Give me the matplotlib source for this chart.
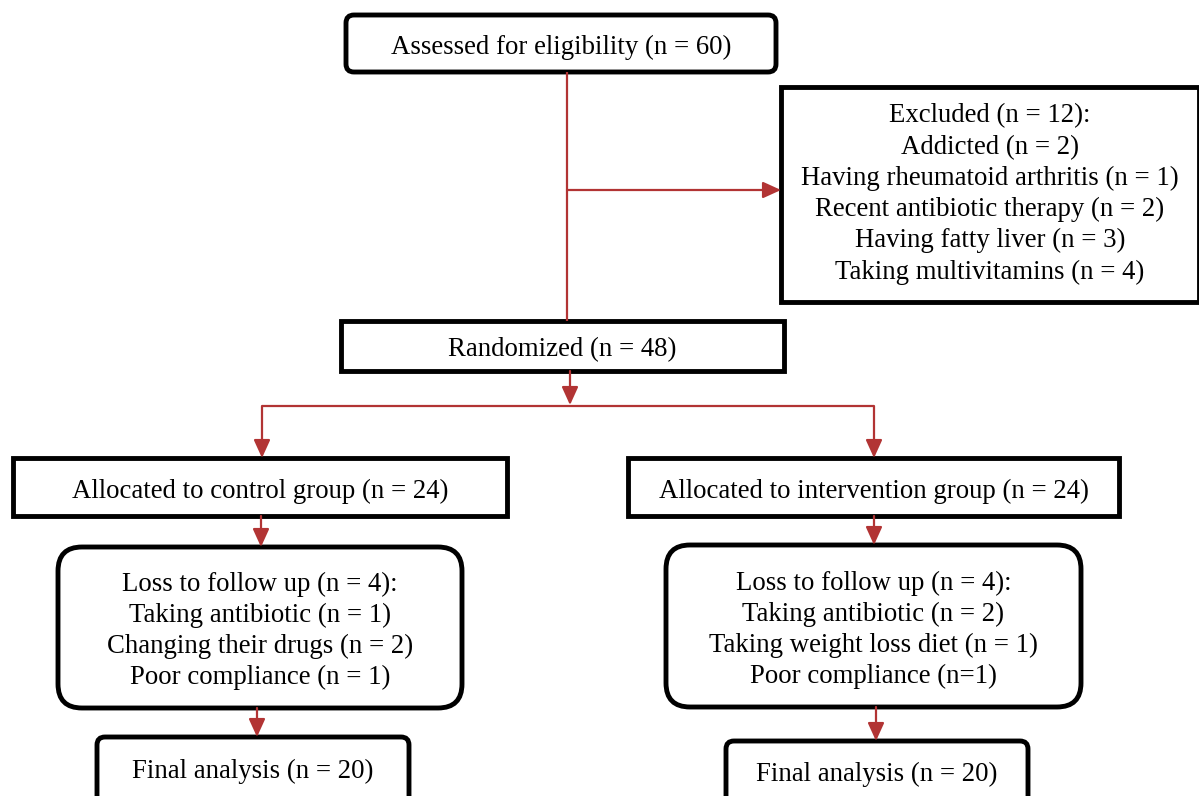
import matplotlib.pyplot as plt
from matplotlib.patches import FancyBboxPatch, Rectangle

plt.rcParams['font.family'] = ['Liberation Serif', 'DejaVu Serif']

# box labels
assessed = ['Assessed for eligibility (n = 60)']
excluded = ['Excluded (n = 12):', 'Addicted (n = 2)', 'Having rheumatoid arthritis (n = 1)',
            'Recent antibiotic therapy (n = 2)', 'Having fatty liver (n = 3)',
            'Taking multivitamins (n = 4)']
randomized = ['Randomized (n = 48)']
alloc_ctrl = ['Allocated to control group (n = 24)']
alloc_int = ['Allocated to intervention group (n = 24)']
loss_ctrl = ['Loss to follow up (n = 4):', 'Taking antibiotic (n = 1)',
             'Changing their drugs (n = 2)', 'Poor compliance (n = 1)']
loss_int = ['Loss to follow up (n = 4):', 'Taking antibiotic (n = 2)',
            'Taking weight loss diet (n = 1)', 'Poor compliance (n=1)']
final_ctrl = ['Final analysis (n = 20)']
final_int = ['Final analysis (n = 20)']

RED = '#b23434'
FS = 19.3
LINE_GAP = 31.2
TEXT_DY = 4

fig = plt.figure(figsize=(11.99, 7.96), dpi=100)
ax = fig.add_axes([0, 0, 1, 1])
ax.set_xlim(0, 1199)
ax.set_ylim(796, 0)
ax.axis('off')


def box(x0, y0, x1, y1, lines, rad=0, text_y=None):
    if rad:
        p = FancyBboxPatch((x0 + rad, y0 + rad), x1 - x0 - 2 * rad, y1 - y0 - 2 * rad,
                           boxstyle=f'round,pad={rad}', fc='white', ec='black', lw=3.5,
                           clip_on=False)
    else:
        p = Rectangle((x0, y0), x1 - x0, y1 - y0, fc='white', ec='black', lw=3.5,
                      clip_on=False)
    ax.add_patch(p)
    cx = (x0 + x1) / 2
    if text_y is None:
        text_y = (y0 + y1) / 2 - (len(lines) - 1) * LINE_GAP / 2 + TEXT_DY
    for i, s in enumerate(lines):
        ax.text(cx, text_y + i * LINE_GAP, s, ha='center', va='center', fontsize=FS)


def line(pts):
    xs, ys = zip(*pts)
    ax.plot(xs, ys, color=RED, lw=1.6, solid_capstyle='butt')


def arrow(x0, y0, x1, y1):
    ax.annotate('', xy=(x1, y1), xytext=(x0, y0),
                arrowprops=dict(arrowstyle='-|>,head_length=1.1,head_width=0.5',
                                color=RED, lw=1.6, shrinkA=0, shrinkB=0))


# connectors
line([(567, 72), (567, 321)])
arrow(567, 190, 781, 190)
arrow(570, 371, 570, 405)
line([(262, 406), (874, 406)])
arrow(262, 406, 262, 458)
arrow(874, 406, 874, 458)
arrow(261, 516, 261, 547)
arrow(874, 516, 874, 545)
arrow(257, 708, 257, 737)
arrow(876, 707, 876, 741)

# boxes
box(346, 15, 776, 72, assessed, rad=8)
box(781, 87, 1199, 302, excluded, text_y=116)
box(341, 321, 784, 371, randomized)
box(13, 458, 507, 516, alloc_ctrl)
box(628, 458, 1119, 516, alloc_int)
box(58, 547, 462, 708, loss_ctrl, rad=24, text_y=584)
box(666, 545, 1081, 707, loss_int, rad=24, text_y=583)
box(97, 737, 409, 810, final_ctrl, rad=8, text_y=771)
box(726, 741, 1028, 810, final_int, rad=8, text_y=774)

plt.savefig('out.png', dpi=100)
